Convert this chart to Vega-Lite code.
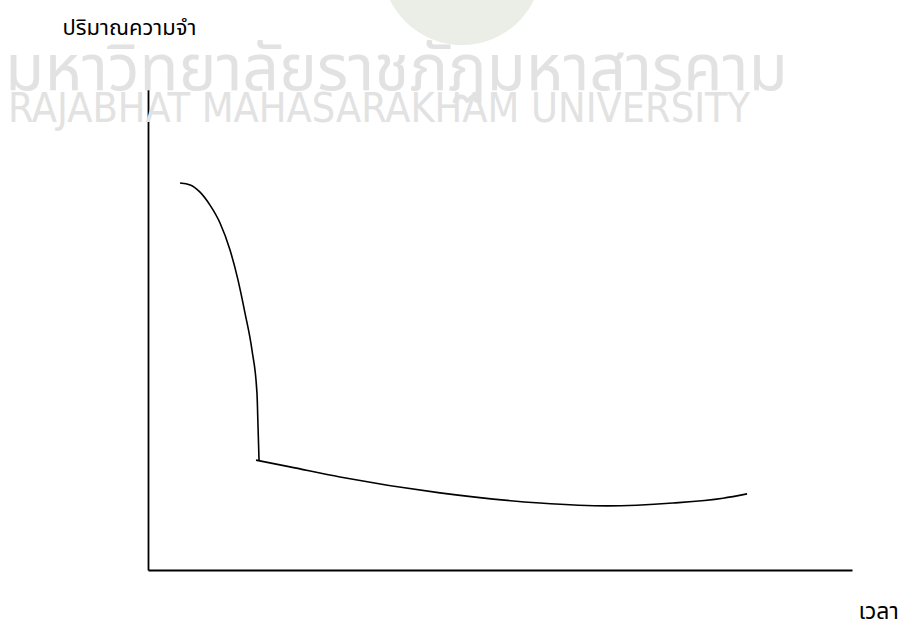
{
  "$schema": "https://vega.github.io/schema/vega-lite/v6.json",
  "width": 704,
  "height": 482,
  "autosize": {"type": "none"},
  "padding": {"left": 148, "top": 88, "right": 65, "bottom": 59},
  "background": "white",
  "config": {
    "view": {"stroke": null},
    "font": "Noto Sans Thai, Noto Sans",
    "axisX": {
      "domain": true, "domainColor": "black", "domainWidth": 1.8, "ticks": false, "labels": false, "grid": false,
      "titleX": 710, "titleY": 48, "titleAlign": "left", "titleBaseline": "alphabetic",
      "titleFontSize": 23, "titleFontWeight": "normal", "titleColor": "black", "titleAngle": 0
    },
    "axisY": {
      "domain": true, "domainColor": "black", "domainWidth": 1.8, "ticks": false, "labels": false, "grid": false,
      "titleX": -86, "titleY": -54, "titleAlign": "left", "titleBaseline": "alphabetic",
      "titleFontSize": 22, "titleFontWeight": "normal", "titleColor": "black", "titleAngle": 0
    }
  },
  "datasets": {
    "blob": [{"t": 44.6, "m": 125.5}],
    "watermark": [
      {"t": -20.3, "m": 99.6, "text": "มหาวิทยาลัยราชภัฏมหาสารคาม", "kind": "th"},
      {"t": -19.9, "m": 93.0, "text": "RAJABHAT MAHASARAKHAM UNIVERSITY", "kind": "en"}
    ],
    "curve": [
      {"seg": "a", "t": 4.55, "m": 80.3},
      {"seg": "a", "t": 6.0, "m": 79.9},
      {"seg": "a", "t": 7.39, "m": 78.4},
      {"seg": "a", "t": 8.81, "m": 75.7},
      {"seg": "a", "t": 10.23, "m": 72.0},
      {"seg": "a", "t": 11.65, "m": 66.4},
      {"seg": "a", "t": 12.78, "m": 60.2},
      {"seg": "a", "t": 13.78, "m": 53.3},
      {"seg": "a", "t": 14.77, "m": 45.6},
      {"seg": "a", "t": 15.48, "m": 36.7},
      {"seg": "a", "t": 15.63, "m": 29.7},
      {"seg": "a", "t": 15.77, "m": 22.8},
      {"seg": "b", "t": 15.34, "m": 22.8},
      {"seg": "b", "t": 20.17, "m": 21.4},
      {"seg": "b", "t": 27.27, "m": 19.3},
      {"seg": "b", "t": 41.48, "m": 16.0},
      {"seg": "b", "t": 55.68, "m": 13.9},
      {"seg": "b", "t": 65.2, "m": 13.3},
      {"seg": "b", "t": 74.57, "m": 13.9},
      {"seg": "b", "t": 81.68, "m": 14.9},
      {"seg": "b", "t": 85.09, "m": 15.8}
    ]
  },
  "encoding": {
    "x": {"field": "t", "type": "quantitative", "scale": {"domain": [0, 100]}, "title": "เวลา"},
    "y": {"field": "m", "type": "quantitative", "scale": {"domain": [0, 100]}, "title": "ปริมาณความจำ"}
  },
  "layer": [
    {
      "data": {"name": "blob"},
      "mark": {"type": "point", "filled": true, "shape": "circle", "size": 25600, "color": "#ebeee7", "opacity": 1}
    },
    {
      "data": {"name": "watermark"},
      "transform": [{"filter": "datum.kind === 'th'"}],
      "mark": {"type": "text", "align": "left", "baseline": "alphabetic", "fontSize": 64, "color": "#e2e2e2"},
      "encoding": {"text": {"field": "text"}}
    },
    {
      "data": {"name": "watermark"},
      "transform": [{"filter": "datum.kind === 'en'"}],
      "mark": {"type": "text", "align": "left", "baseline": "alphabetic", "fontSize": 41, "font": "DejaVu Sans Condensed, Liberation Sans", "color": "#e2e2e2"},
      "encoding": {"text": {"field": "text"}}
    },
    {
      "data": {"name": "curve"},
      "mark": {"type": "line", "color": "black", "strokeWidth": 1.6, "interpolate": "monotone"},
      "encoding": {"detail": {"field": "seg"}}
    }
  ]
}
